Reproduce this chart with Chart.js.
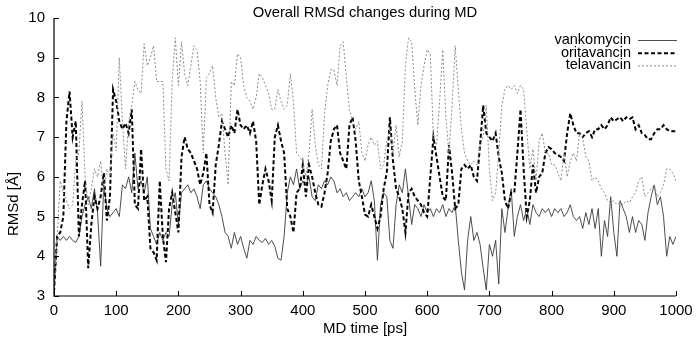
<!DOCTYPE html>
<html><head><meta charset="utf-8">
<script src="https://cdn.jsdelivr.net/npm/chart.js@4/dist/chart.umd.min.js"></script>
<style>html,body{margin:0;padding:0;background:#fff}#wrap{width:700px;height:340px}</style>
</head><body><div id="wrap"><canvas id="c" width="700" height="340"></canvas></div>
<script>
// MD time [ps]
const time = [
0,5,10,15,20,25,30,35,40,45,50,55,60,65,70,75,80,85,90,95,
100,105,110,115,120,125,130,135,140,145,150,155,160,165,170,175,180,185,190,195,
200,205,210,215,220,225,230,235,240,245,250,255,260,265,270,275,280,285,290,295,
300,305,310,315,320,325,330,335,340,345,350,355,360,365,370,375,380,385,390,395,
400,405,410,415,420,425,430,435,440,445,450,455,460,465,470,475,480,485,490,495,
500,505,510,515,520,525,530,535,540,545,550,555,560,565,570,575,580,585,590,595,
600,605,610,615,620,625,630,635,640,645,650,655,660,665,670,675,680,685,690,695,
700,705,710,715,720,725,730,735,740,745,750,755,760,765,770,775,780,785,790,795,
800,805,810,815,820,825,830,835,840,845,850,855,860,865,870,875,880,885,890,895,
900,905,910,915,920,925,930,935,940,945,950,955,960,965,970,975,980,985,990,995,1000];

const vankomycin = [
3.1,4.5,4.4,4.5,4.4,4.5,4.4,4.35,4.5,5.0,5.3,5.5,5.2,5.7,5.1,3.75,5.8,5.2,5.0,5.1,
5.2,5.0,5.8,5.7,6.0,5.6,6.6,5.7,5.9,5.6,6.0,4.7,4.5,4.3,4.6,4.4,4.6,4.5,5.3,5.6,
4.8,5.6,5.7,5.8,5.6,5.7,5.5,5.2,5.8,5.9,5.7,5.6,5.5,5.3,5.0,4.6,4.5,4.2,4.6,4.3,
4.5,4.2,3.95,4.4,4.3,4.5,4.4,4.35,4.45,4.3,4.4,4.25,3.95,3.9,4.5,5.6,6.0,5.8,6.2,5.7,
5.9,5.8,6.0,5.5,5.4,5.8,5.7,5.9,5.8,6.0,5.9,5.6,5.7,5.5,5.6,5.4,5.5,5.6,5.5,5.7,
5.5,5.6,5.9,5.4,3.9,5.3,5.6,5.5,4.4,4.2,5.3,5.8,5.6,6.2,5.5,4.8,5.3,5.2,5.0,5.3,
5.1,5.2,5.0,5.2,5.1,5.3,5.0,5.2,5.1,5.3,4.4,3.6,3.15,4.4,5.0,4.4,4.6,4.3,3.7,3.15,
4.3,4.0,4.4,3.3,5.2,4.6,5.2,5.7,4.5,5.0,5.3,4.9,5.2,4.8,5.3,5.1,5.0,5.2,5.1,5.2,
5.0,5.2,5.1,5.2,5.0,5.1,5.3,5.0,4.9,5.0,4.7,5.1,4.8,5.2,4.7,5.2,4.0,4.9,4.5,5.5,
4.6,4.0,5.4,5.2,5.0,4.6,5.0,4.6,4.9,4.8,4.4,5.1,5.5,5.8,5.3,5.5,5.0,4.0,4.5,4.3,4.5];

const oritavancin = [
3.1,4.5,4.6,5.0,7.4,8.15,7.0,7.4,4.5,5.3,5.9,3.7,4.8,5.5,5.2,5.5,6.1,4.9,5.5,8.2,
7.9,7.4,7.2,7.35,7.1,7.7,5.3,5.2,6.7,5.4,5.5,4.2,4.1,3.9,5.9,4.5,3.85,5.2,5.6,5.1,
4.6,6.5,7.0,6.7,6.6,6.4,6.2,5.8,6.1,6.6,5.3,5.1,6.3,6.8,7.4,7.2,7.0,7.3,7.1,7.7,
7.3,7.2,7.3,7.1,7.4,6.9,5.3,5.8,6.2,5.9,5.4,7.0,7.3,6.9,6.6,5.2,5.0,4.6,5.6,5.7,
6.3,5.5,6.3,6.0,5.6,5.3,5.25,5.6,6.1,6.9,7.2,7.3,6.6,6.4,6.2,7.3,7.5,6.9,5.9,5.5,
5.05,5.0,5.3,5.0,4.7,5.0,5.7,6.1,7.5,6.4,5.7,5.5,5.2,4.6,5.6,5.7,5.5,5.4,5.3,5.1,
5.0,6.0,7.0,6.5,6.0,5.5,5.4,6.8,6.1,5.2,5.3,6.2,6.3,6.2,6.3,6.0,5.9,6.8,7.8,7.1,
7.0,6.9,7.1,6.5,6.1,5.4,5.2,5.6,5.6,6.6,7.7,6.2,5.0,5.4,6.3,5.6,6.0,6.1,6.6,6.75,
6.7,6.6,6.55,6.5,6.4,7.1,7.6,7.3,7.1,7.1,7.0,7.1,7.15,7.0,7.2,7.2,7.3,7.2,7.3,7.5,
7.4,7.45,7.5,7.4,7.5,7.45,7.5,7.2,7.3,7.1,7.05,6.95,6.95,7.1,7.2,7.2,7.3,7.2,7.15,7.15,7.15];

const telavancin = [
3.1,4.5,5.9,5.6,5.4,5.2,5.3,6.4,6.6,7.9,6.0,5.3,5.7,6.2,6.0,6.4,5.6,6.2,6.0,7.1,
6.65,9.0,7.4,6.2,7.4,7.8,8.4,8.2,8.1,9.35,8.8,9.0,9.3,8.4,8.4,8.4,6.2,5.9,8.4,9.5,
8.3,9.4,8.6,8.3,8.8,9.3,9.2,8.4,6.6,8.5,8.6,8.8,8.0,7.5,7.6,6.6,5.8,8.4,8.3,9.1,
9.0,8.3,8.0,7.9,7.7,8.0,8.6,8.5,8.3,8.1,7.7,7.7,8.2,7.9,7.7,7.8,8.6,7.9,6.6,6.5,
6.4,6.0,6.6,7.7,6.8,6.3,6.2,7.6,8.3,8.7,8.7,8.3,9.3,9.4,8.5,7.7,7.4,7.2,7.4,6.6,
6.4,6.8,7.0,6.8,6.9,6.2,6.3,6.9,7.2,6.6,7.3,6.5,6.9,8.8,9.5,9.4,8.2,7.3,8.3,8.8,
9.2,9.1,7.0,6.8,7.9,9.2,7.5,6.6,7.8,9.3,8.2,7.2,6.6,6.4,6.3,6.4,6.3,6.8,7.0,7.8,
6.2,5.4,5.6,6.6,7.8,8.2,8.3,8.2,8.3,8.1,8.3,8.2,7.2,6.2,6.7,5.9,6.9,7.1,6.6,6.6,
6.3,6.3,6.1,5.9,6.6,6.0,6.4,6.6,6.4,7.1,7.0,6.5,6.4,5.9,6.0,5.9,5.7,5.6,5.4,5.35,
5.4,5.3,5.35,5.3,5.4,5.35,5.5,5.6,5.9,6.0,5.5,5.6,5.7,5.8,5.5,5.6,5.8,6.2,6.2,6.1,5.9];

const seriesNames = ['vankomycin', 'oritavancin', 'telavancin'];
const xTicksStep = 100;
const yRange = [3, 10];
const xRange = [0, 1000];

const FONT = '"Liberation Sans", Arial, Helvetica, sans-serif';

function pts(arr) { return time.map((t, i) => ({x: t, y: arr[i]})); }

const decor = {
  id: 'decor',
  afterDraw(chart) {
    const ctx = chart.ctx;
    const a = chart.chartArea;
    const xs = chart.scales.x, ys = chart.scales.y;
    ctx.save();
    ctx.strokeStyle = '#000';
    ctx.lineWidth = 1.2;
    ctx.setLineDash([]);
    ctx.beginPath();
    ctx.moveTo(a.left, a.top);
    ctx.lineTo(a.left, a.bottom);
    ctx.lineTo(a.right, a.bottom);
    ctx.stroke();
    ctx.lineWidth = 1;
    ctx.beginPath();
    xs.ticks.forEach(t => {
      const px = Math.round(xs.getPixelForValue(t.value)) + 0.5;
      ctx.moveTo(px, a.bottom);
      ctx.lineTo(px, a.bottom - 5);
    });
    ys.ticks.forEach(t => {
      const py = Math.round(ys.getPixelForValue(t.value)) + 0.5;
      ctx.moveTo(a.left, py);
      ctx.lineTo(a.left + 5, py);
    });
    ctx.stroke();
    ctx.fillStyle = '#000';
    ctx.font = '14.8px ' + FONT;
    ctx.textAlign = 'center';
    ctx.textBaseline = 'alphabetic';
    ctx.fillText('Overall RMSd changes during MD', 365, 17);
    ctx.font = '15px ' + FONT;
    ctx.fillText('MD time [ps]', 365, 333);
    ctx.save();
    ctx.translate(18, 204);
    ctx.rotate(-Math.PI / 2);
    ctx.fillText('RMSd [Å]', 0, 0);
    ctx.restore();
    ctx.font = '14.5px ' + FONT;
    ctx.textAlign = 'right';
    ctx.textBaseline = 'middle';
    const rowsY = [40, 52.7, 65.4];
    chart.data.datasets.forEach((ds, i) => {
      const y = rowsY[i];
      ctx.fillStyle = '#000';
      ctx.fillText(ds.label, 631, y);
      ctx.strokeStyle = ds.borderColor;
      ctx.lineWidth = ds.borderWidth;
      ctx.setLineDash(ds.borderDash || []);
      ctx.beginPath();
      ctx.moveTo(638, y + 0.5);
      ctx.lineTo(677, y + 0.5);
      ctx.stroke();
    });
    ctx.restore();
  }
};

new Chart(document.getElementById('c'), {
  type: 'line',
  data: {
    datasets: [
      {label: seriesNames[0], data: pts(vankomycin), borderColor: '#3a3a3a', borderWidth: 0.9, borderDash: [], pointRadius: 0, tension: 0, order: 3},
      {label: seriesNames[1], data: pts(oritavancin), borderColor: '#000000', borderWidth: 2, borderDash: [4, 2.5], pointRadius: 0, tension: 0, order: 2},
      {label: seriesNames[2], data: pts(telavancin), borderColor: '#8a8a8a', borderWidth: 1, borderDash: [2, 2], pointRadius: 0, tension: 0, order: 1}
    ]
  },
  options: {
    responsive: false,
    animation: false,
    devicePixelRatio: 1,
    layout: {padding: {left: 0, right: 24, top: 11, bottom: 0}},
    plugins: {legend: {display: false}, title: {display: false}, tooltip: {enabled: false}},
    scales: {
      x: {
        type: 'linear', min: xRange[0], max: xRange[1],
        ticks: {stepSize: xTicksStep, color: '#000', font: {family: FONT, size: 15}, padding: 6, maxRotation: 0, autoSkip: false,
                callback: v => String(v)},
        grid: {display: false, drawTicks: false},
        border: {display: false},
        afterFit: s => { s.height = 44; }
      },
      y: {
        min: yRange[0], max: yRange[1],
        ticks: {stepSize: 1, color: '#000', font: {family: FONT, size: 15}, padding: 9, callback: v => String(v)},
        grid: {display: false, drawTicks: false},
        border: {display: false},
        afterFit: s => { s.width = 54; }
      }
    }
  },
  plugins: [decor]
});
</script>
</body></html>
